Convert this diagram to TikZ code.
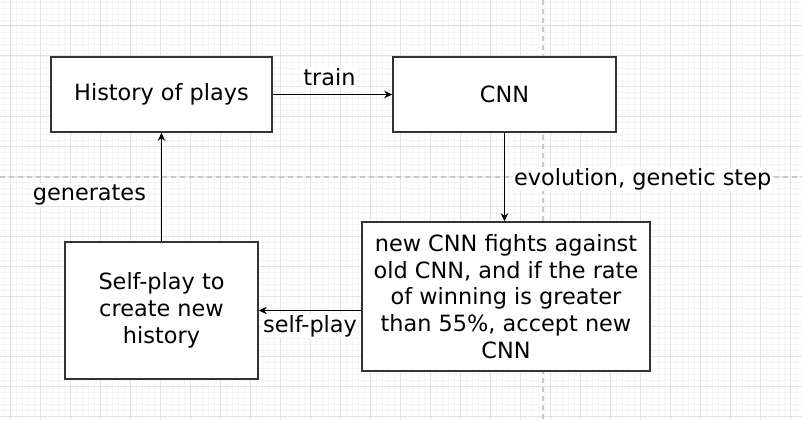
\documentclass[tikz,border=0pt]{standalone}
\usepackage{fontspec}
\setmainfont{DejaVu Sans}
\usetikzlibrary{arrows.meta}
\definecolor{minorgrid}{HTML}{F5F5F5}
\definecolor{majorgrid}{HTML}{E3E3E3}
\definecolor{pagebreak}{HTML}{C8C8C8}
\definecolor{boxline}{HTML}{333333}

\tikzset{
  blok/.style={draw=boxline, line width=1.6pt, fill=white, align=center, inner sep=4pt},
  flowarrow/.style={draw=black, line width=1.1pt, -{Stealth[length=8pt,width=7.5pt]}},
  edgetext/.style={fill=white, inner sep=1pt}
}

\begin{document}
\begin{tikzpicture}[x=1pt,y=-1pt,font=\fontsize{22.4}{26.7}\selectfont]
			%%%%% BACKGROUND %%%%%
			\fill[white] (0,0) rectangle (802,420);
			\useasboundingbox (0,0) rectangle (802,420);
			\foreach \gx in {4,10,...,802} \draw[minorgrid, line width=0.8pt] (\gx,0) -- (\gx,420);
			\foreach \gy in {2,8,...,420} \draw[minorgrid, line width=0.8pt] (0,\gy) -- (802,\gy);
			\foreach \gx in {10,40,...,802} \draw[majorgrid, line width=1pt] (\gx,0) -- (\gx,420);
			\foreach \gy in {26,56,...,420} \draw[majorgrid, line width=1pt] (0,\gy) -- (802,\gy);
			\draw[pagebreak, line width=1.2pt, dash pattern=on 5pt off 4pt] (543,0) -- (543,420);
			\draw[pagebreak, line width=1.2pt, dash pattern=on 5pt off 4pt] (0,177) -- (802,177);
			
			%%%%% BOXES %%%%%
			\node[blok, minimum width=221pt, minimum height=75pt] (hist) at (161.5,94.5) {History of plays};
			\node[blok, minimum width=223pt, minimum height=75pt] (cnn) at (504.5,94.5) {CNN};
			\node[blok, minimum width=288pt, minimum height=149pt] (duel) at (506,296.5)
				{new CNN fights against\\old CNN, and if the rate\\of winning is greater\\than 55\%, accept new\\CNN};
			\node[blok, minimum width=193pt, minimum height=137pt] (selfplay) at (161.5,310.5)
				{Self-play to\\create new\\history};
			
			%%%%% ARROWS %%%%%
			\draw[flowarrow] (hist.east) -- node[edgetext, above=7pt, xshift=-3pt] (trainlbl) {train} (cnn.west);
			\draw[flowarrow] (cnn.south) -- node[edgetext, right=8pt, yshift=-2pt] (evolbl) {evolution, genetic step} (cnn.south |- duel.north);
			\draw[flowarrow] ([yshift=-14pt]duel.west) -- node[edgetext, below=3pt] (selflbl) {self-play} ([yshift=-14pt]duel.west -| selfplay.east);
			\draw[flowarrow] (selfplay.north) -- node[edgetext, left=14pt, pos=0.43] (genlbl) {generates} (hist.south);
\end{tikzpicture}
\end{document}
